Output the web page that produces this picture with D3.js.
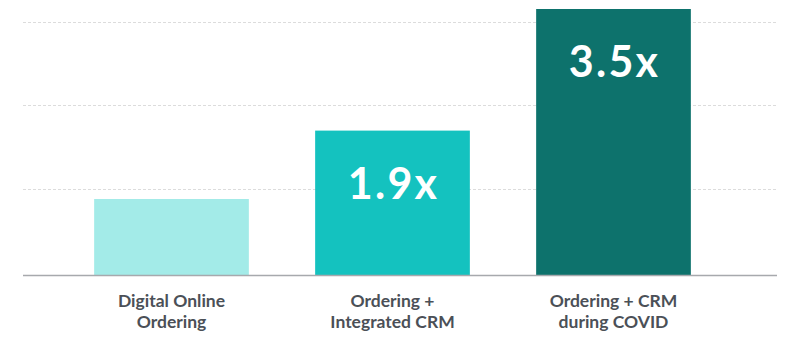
<!DOCTYPE html>
<html>
<head>
<meta charset="utf-8">
<script src="https://cdn.jsdelivr.net/npm/d3@7"></script>
<style>
  html, body { margin: 0; padding: 0; background: #ffffff; }
  svg { display: block; }
</style>
</head>
<body>
<svg id="chart" width="800" height="343"></svg>
<script>
const categories = [["Digital Online", "Ordering"], ["Ordering +", "Integrated CRM"], ["Ordering + CRM", "during COVID"]];
const values = [1.0, 1.9, 3.5];
const valueLabels = ["", "1.9x", "3.5x"];
const gridValues = [1.13, 2.24, 3.33];
const colors = ["#a3ebe8", "#14c2bf", "#0d726c"];

const svg = d3.select("#chart");
const baseY = 275;
const y = d3.scaleLinear().domain([0, 1]).range([baseY, 199]);
const x = d3.scaleBand().domain(d3.range(categories.length)).range([61, 724])
  .paddingInner(0.3).paddingOuter(0.15);

// gridlines
svg.append("g").selectAll("line").data(gridValues).join("line")
  .attr("x1", 23).attr("x2", 777)
  .attr("y1", d => Math.round(y(d)) + 0.5).attr("y2", d => Math.round(y(d)) + 0.5)
  .attr("stroke", "#dcdcdc").attr("stroke-width", 1)
  .attr("stroke-dasharray", "3,2");

// bars
svg.append("g").selectAll("rect").data(values).join("rect")
  .attr("x", (d, i) => x(i)).attr("width", x.bandwidth())
  .attr("y", d => y(d)).attr("height", d => baseY - y(d))
  .attr("fill", (d, i) => colors[i]);

// baseline
svg.append("line").attr("x1", 23).attr("x2", 777)
  .attr("y1", baseY + 0.5).attr("y2", baseY + 0.5)
  .attr("stroke", "#a7a9ad").attr("stroke-width", 1.5);

// value labels
svg.append("g").selectAll("text").data(values).join("text")
  .attr("x", (d, i) => x(i) + x.bandwidth() / 2 + 1)
  .attr("y", d => y(d) + 68)
  .attr("text-anchor", "middle")
  .attr("font-family", "Lato, sans-serif").attr("font-weight", 700)
  .attr("font-size", 43).attr("letter-spacing", 2.2).attr("fill", "#ffffff")
  .text((d, i) => valueLabels[i]);

// category labels
const cat = svg.append("g").selectAll("text").data(categories).join("text")
  .attr("x", (d, i) => x(i) + x.bandwidth() / 2)
  .attr("y", 306.5)
  .attr("text-anchor", "middle")
  .attr("font-family", "Lato, sans-serif").attr("font-weight", 700)
  .attr("font-size", 17.5).attr("fill", "#4b5057");
cat.selectAll("tspan").data(d => d).join("tspan")
  .attr("x", function() { return d3.select(this.parentNode).attr("x"); })
  .attr("dy", (d, j) => j === 0 ? 0 : 21)
  .text(d => d);
</script>
</body>
</html>
